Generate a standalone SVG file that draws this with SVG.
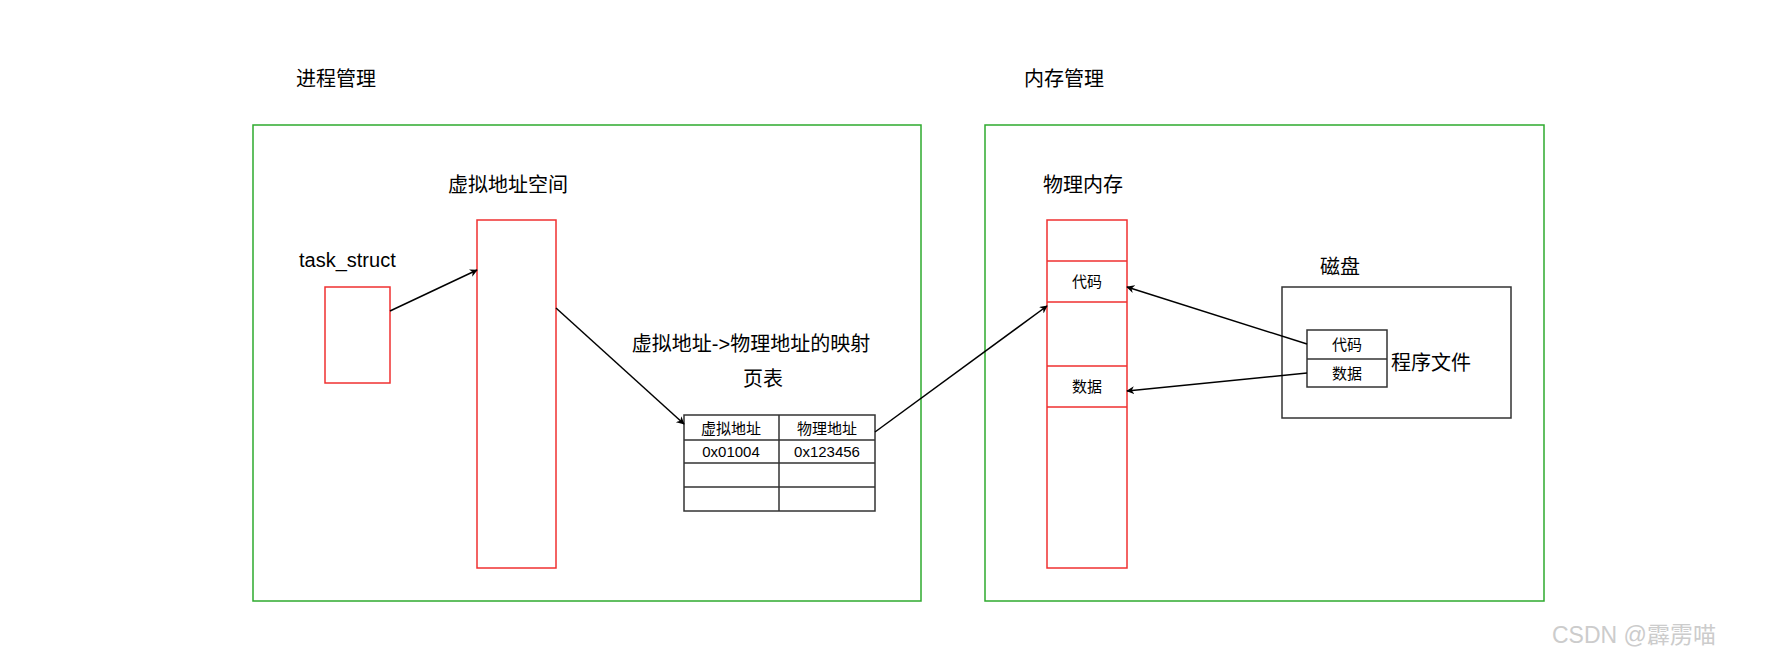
<svg xmlns="http://www.w3.org/2000/svg" width="1788" height="668" viewBox="0 0 1788 668">
<style>
text{font-family:"Liberation Sans","Noto Sans CJK SC",sans-serif;fill:#000}
.g{fill:none;stroke:#2eaa2e;stroke-width:1.5}
.r{fill:#fff;stroke:#f03030;stroke-width:1.5}
.k{fill:#fff;stroke:#333;stroke-width:1.5}
.l{font-size:20px}
.s{font-size:15px}
.c{stroke:#000;stroke-width:1.5;fill:none;marker-end:url(#a)}
</style>
<defs><marker id="a" viewBox="0 0 10 10" refX="9" refY="5" markerWidth="8" markerHeight="8" orient="auto" markerUnits="userSpaceOnUse" ><path d="M0,0L10,5L0,10L3,5Z" fill="#000"/></marker></defs>
<rect width="1788" height="668" fill="#fff"/>
<g id="proc"><rect class="g" x="253" y="125" width="668" height="476"/><text class="l" x="296" y="86">进程管理</text></g>
<g id="mem"><rect class="g" x="985" y="125" width="559" height="476"/><text class="l" x="1024" y="86">内存管理</text></g>
<g id="task"><text class="l" x="299" y="267">task_struct</text><rect class="r" x="325" y="287" width="65" height="96"/></g>
<g id="vas"><text class="l" x="448" y="192">虚拟地址空间</text><rect class="r" x="477" y="220" width="79" height="348"/></g>
<g id="map"><text class="l" x="751" y="351" text-anchor="middle">虚拟地址-&gt;物理地址的映射</text><text class="l" x="763" y="386" text-anchor="middle">页表</text></g>
<g id="table">
<rect class="k" x="684" y="415" width="191" height="96"/>
<path d="M684,440H875M684,463H875M684,487H875M779,415V511" stroke="#333" stroke-width="1.5"/>
<text class="s" x="731" y="434" text-anchor="middle">虚拟地址</text><text class="s" x="827" y="434" text-anchor="middle">物理地址</text>
<text class="s" x="731" y="457" text-anchor="middle">0x01004</text><text class="s" x="827" y="457" text-anchor="middle">0x123456</text>
</g>
<g id="phys"><text class="l" x="1043" y="192">物理内存</text>
<rect class="r" x="1047" y="220" width="80" height="348"/>
<path d="M1047,261H1127M1047,302H1127M1047,366H1127M1047,407H1127" stroke="#f03030" stroke-width="1.5"/>
<text class="s" x="1087" y="287" text-anchor="middle">代码</text><text class="s" x="1087" y="392" text-anchor="middle">数据</text></g>
<g id="disk"><text class="l" x="1320" y="274">磁盘</text>
<rect class="k" x="1282" y="287" width="229" height="131"/>
<rect class="k" x="1307" y="330" width="80" height="57"/><path d="M1307,359H1387" stroke="#333" stroke-width="1.5"/>
<text class="s" x="1347" y="350" text-anchor="middle">代码</text><text class="s" x="1347" y="379" text-anchor="middle">数据</text>
<text class="l" x="1391" y="370">程序文件</text></g>
<g id="connectors">
<path class="c" d="M390,311L477,270"/>
<path class="c" d="M556,308L684,424"/>
<path class="c" d="M875,432L1047,306"/>
<path class="c" d="M1307,344L1127,287"/>
<path class="c" d="M1307,373L1127,391"/>
</g>
<text x="1552" y="643" font-size="23" style="fill:#ccc">CSDN @霹雳喵</text>
</svg>
